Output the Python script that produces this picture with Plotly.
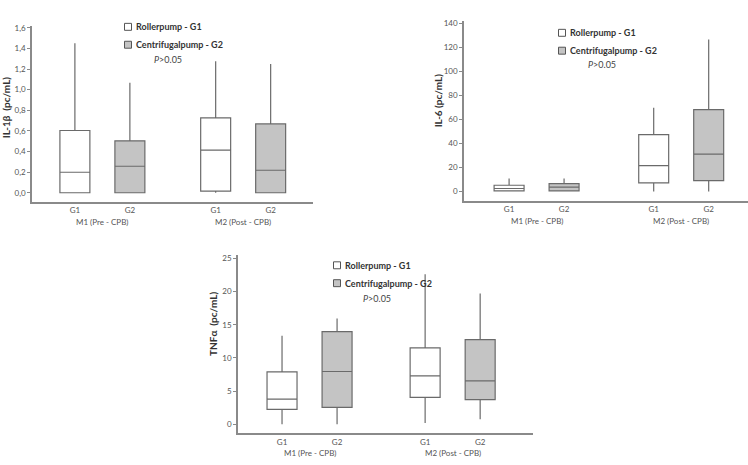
import plotly.graph_objects as go

W, H = 748, 465

# ---------------- data ----------------
groups = ["M1 (Pre - CPB)", "M2 (Post - CPB)"]
box_labels = ["G1", "G2", "G1", "G2"]
series = ["Rollerpump - G1", "Centrifugalpump - G2"]

# order: M1-G1, M1-G2, M2-G1, M2-G2
il1b_low = [0.0, 0.0, 0.0, 0.0]
il1b_q1 = [0.0, 0.0, 0.016, 0.0]
il1b_med = [0.199, 0.257, 0.414, 0.218]
il1b_q3 = [0.604, 0.504, 0.726, 0.668]
il1b_high = [1.449, 1.067, 1.276, 1.25]

il6_low = [0.0, 0.0, 0.0, 0.0]
il6_q1 = [0.5, 0.5, 7.2, 9.1]
il6_med = [2.5, 3.6, 21.5, 31.2]
il6_q3 = [5.2, 6.6, 47.5, 68.2]
il6_high = [10.8, 10.8, 69.9, 126.8]

tnf_low = [0.0, 0.0, 0.2, 0.75]
tnf_q1 = [2.25, 2.55, 4.05, 3.7]
tnf_med = [3.8, 7.95, 7.3, 6.55]
tnf_q3 = [7.9, 13.95, 11.5, 12.75]
tnf_high = [13.35, 15.95, 22.6, 19.7]

p_text = "<i>P</i>>0.05"

# ---------------- styling ----------------
FONT = "Lato"
EDGE = "#6a6a6a"
AX = "#8a8a8a"
TXT = "#555555"
FILLS = ["#ffffff", "#c4c4c4", "#ffffff", "#c4c4c4"]


def px(x):
    return x / W


def py(y):
    return 1 - y / H


panels = [
    dict(name="1", xdom=(32, 313), ydom=(200, 23), pos=[0, 1, 2.56, 3.56],
         xr=(-0.78, 4.33), yr=(-0.087, 1.619), dtick=0.2, fmt=".1f",
         low=il1b_low, q1=il1b_q1, med=il1b_med, q3=il1b_q3, high=il1b_high,
         title="IL-1β  (pc/mL)", tpos=(6, 105),
         leg=(128, 24, 42), ptxt=(168, 57)),
    dict(name="2", xdom=(464, 748), ydom=(199, 18), pos=[0, 1, 2.63, 3.63],
         xr=(-0.82, 4.345), yr=(-7.7, 142.3), dtick=20, fmt="d",
         low=il6_low, q1=il6_q1, med=il6_med, q3=il6_q3, high=il6_high,
         title="IL-6 (pc/mL)", tpos=(438, 99),
         leg=(562, 30, 48), ptxt=(602, 62)),
    dict(name="3", xdom=(238, 533), ydom=(433, 254), pos=[0, 1, 2.6, 3.6],
         xr=(-0.8, 4.56), yr=(-1.35, 25.45), dtick=5, fmt="d",
         low=tnf_low, q1=tnf_q1, med=tnf_med, q3=tnf_q3, high=tnf_high,
         title="TNFα  (pc/mL)", tpos=(213, 323),
         leg=(337, 264, 282), ptxt=(377, 297)),
]

fig = go.Figure()
layout = dict(
    width=W, height=H, margin=dict(l=0, r=0, t=0, b=0),
    paper_bgcolor="white", plot_bgcolor="white",
    showlegend=False, boxmode="overlay", separators=",.",
    font=dict(family=FONT, color=TXT, size=9),
)
annotations = []
shapes = []

for i, p in enumerate(panels):
    xa = "x" if p["name"] == "1" else "x" + p["name"]
    ya = "y" if p["name"] == "1" else "y" + p["name"]
    for k in range(4):
        fig.add_trace(go.Box(
            x=[p["pos"][k]],
            lowerfence=[p["low"][k]], q1=[p["q1"][k]], median=[p["med"][k]],
            q3=[p["q3"][k]], upperfence=[p["high"][k]],
            width=0.545, whiskerwidth=0, boxpoints=False,
            fillcolor=FILLS[k], line=dict(color=EDGE, width=1.2),
            xaxis=xa, yaxis=ya, hoverinfo="skip",
        ))
    xkey = "xaxis" if p["name"] == "1" else "xaxis" + p["name"]
    ykey = "yaxis" if p["name"] == "1" else "yaxis" + p["name"]
    layout[xkey] = dict(
        domain=[px(p["xdom"][0]), px(p["xdom"][1])], anchor=ya,
        range=list(p["xr"]), tickmode="array", tickvals=p["pos"],
        ticktext=box_labels, showgrid=False, zeroline=False,
        showline=True, linecolor=AX, linewidth=1.5, ticks="",
        tickfont=dict(size=8, color=TXT, family=FONT), fixedrange=True,
    )
    layout[ykey] = dict(
        domain=[py(p["ydom"][0]), py(p["ydom"][1])], anchor=xa,
        range=list(p["yr"]), dtick=p["dtick"], tick0=0, tickformat=p["fmt"],
        showgrid=False, zeroline=False, showline=True, linecolor=AX,
        linewidth=1.5, ticks="outside", ticklen=3, tickcolor=AX,
        tickfont=dict(size=8, color=TXT, family=FONT), fixedrange=True,
    )
    # group labels
    for g in range(2):
        xc = (p["pos"][2 * g] + p["pos"][2 * g + 1]) / 2
        annotations.append(dict(
            x=xc, xref=xa, y=py(p["ydom"][0] + 20), yref="paper",
            text=groups[g], showarrow=False, xanchor="center", yanchor="middle",
            font=dict(size=8, color=TXT, family=FONT)))
    # y title
    annotations.append(dict(
        x=px(p["tpos"][0]), y=py(p["tpos"][1]), xref="paper", yref="paper",
        text="<b>" + p["title"] + "</b>", textangle=-90, showarrow=False,
        xanchor="center", yanchor="middle",
        font=dict(size=10, color="#333333", family=FONT)))
    # legend
    lx, ly1, ly2 = p["leg"]
    for j, ly in enumerate([ly1, ly2]):
        shapes.append(dict(
            type="rect", xref="paper", yref="paper",
            x0=px(lx - 3.5), x1=px(lx + 3.5), y0=py(ly + 3.5), y1=py(ly - 3.5),
            fillcolor=FILLS[j], line=dict(color="#555555", width=1)))
        annotations.append(dict(
            x=px(lx + 6), y=py(ly), xref="paper", yref="paper",
            text="<b>" + series[j] + "</b>", showarrow=False,
            xanchor="left", yanchor="middle",
            font=dict(size=9, color="#333333", family=FONT)))
    annotations.append(dict(
        x=px(p["ptxt"][0]), y=py(p["ptxt"][1]), xref="paper", yref="paper",
        text=p_text, showarrow=False, xanchor="center", yanchor="middle",
        font=dict(size=9, color="#444444", family=FONT)))

layout["annotations"] = annotations
layout["shapes"] = shapes
fig.update_layout(**layout)
fig.write_html("out.html")
